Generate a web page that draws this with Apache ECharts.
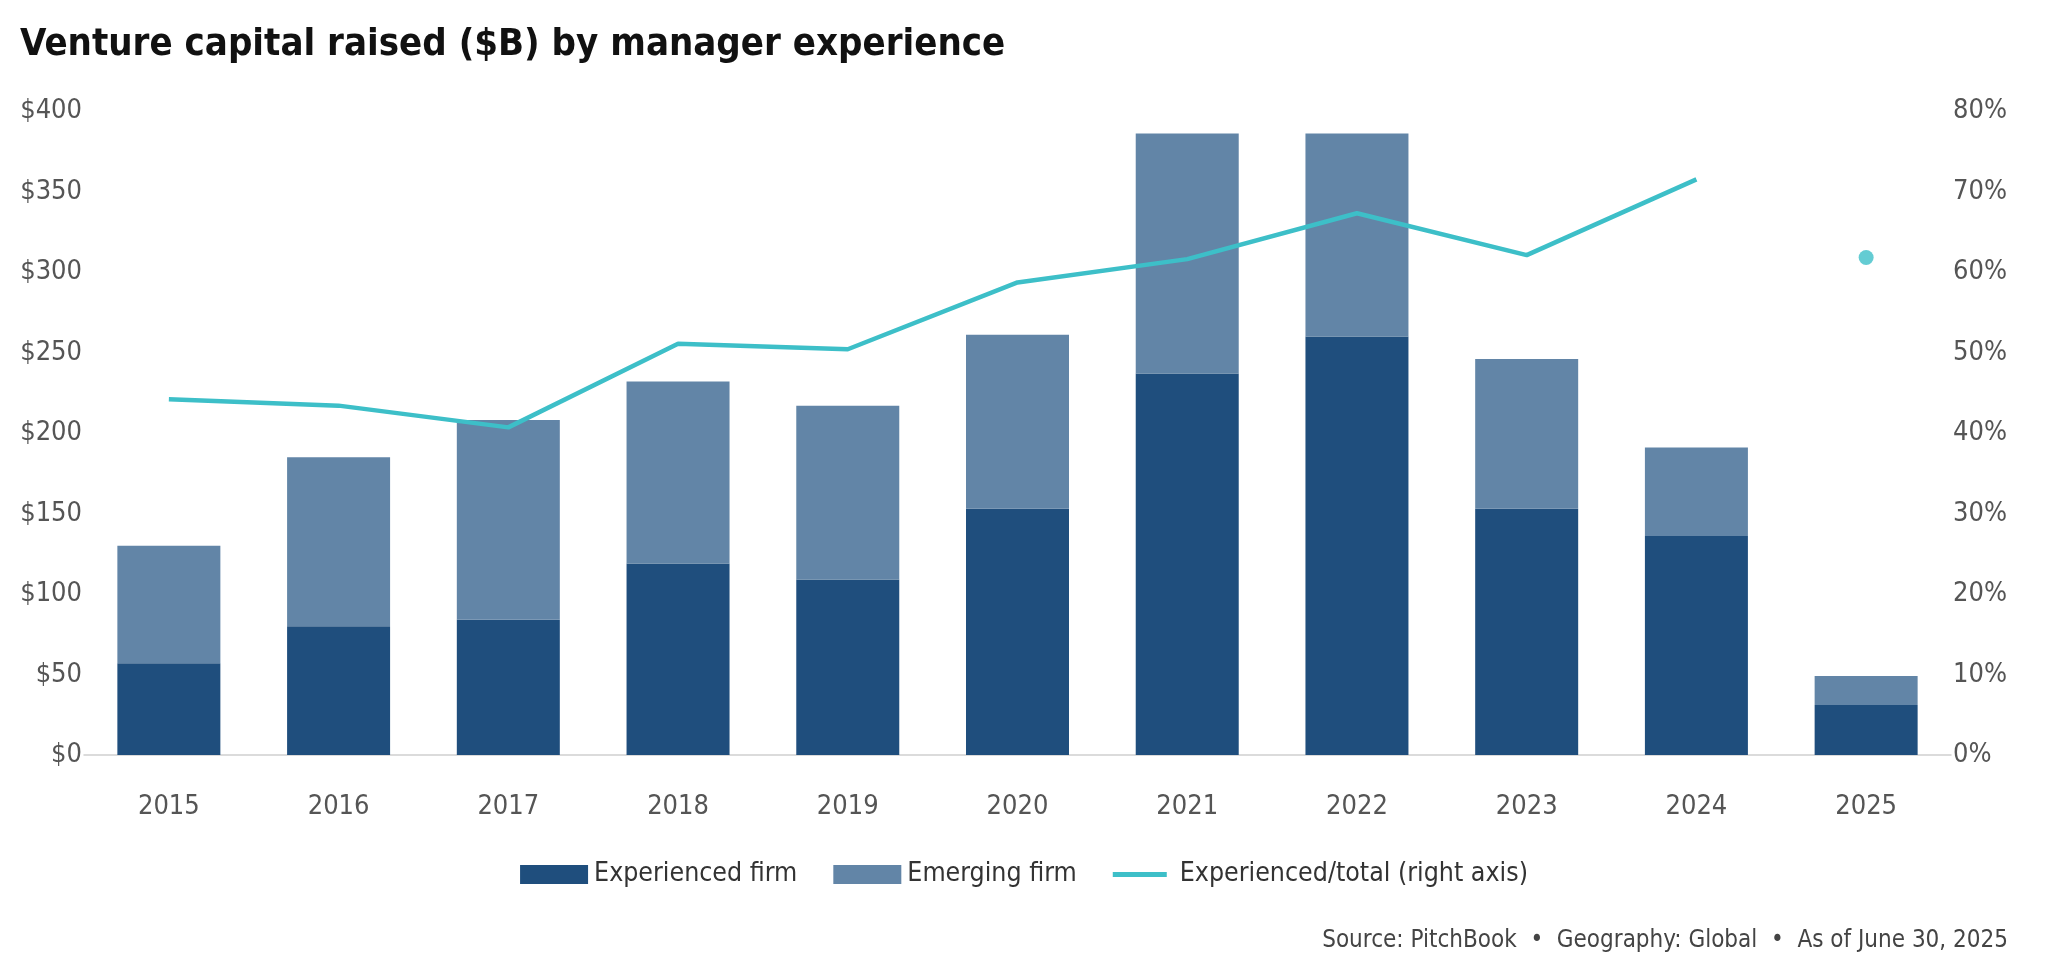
<!DOCTYPE html>
<html>
<head>
<meta charset="utf-8">
<script src="https://cdn.jsdelivr.net/npm/echarts@6/dist/echarts.min.js"></script>
<style>
html,body{margin:0;padding:0;background:#fff;}
#chart{width:2048px;height:977px;}
</style>
</head>
<body>
<div id="chart"></div>
<script>
const years = ['2015','2016','2017','2018','2019','2020','2021','2022','2023','2024','2025'];
const experienced = [57, 80, 84, 119, 109, 153, 237, 260, 153, 136, 31];
const emerging = [73, 105, 124, 113, 108, 108, 149, 126, 93, 55, 18];
const experiencedShare = [44.2, 43.4, 40.7, 51.1, 50.4, 58.7, 61.6, 67.3, 62.1, 71.5, 61.8];
const leftTicks = { min: 0, max: 400, interval: 50 };
const rightTicks = { min: 0, max: 80, interval: 10 };

const FONT = "'DejaVu Sans Condensed', 'Liberation Sans Narrow', 'Roboto', sans-serif";
const lastIdx = years.length - 1;
const lineData = experiencedShare.map((v, i) => i === lastIdx ? '-' : v);
const dotData = experiencedShare.map((v, i) => i === lastIdx ? v : '-');

const chart = echarts.init(document.getElementById('chart'));
chart.setOption({
  animation: false,
  backgroundColor: '#ffffff',
  textStyle: { fontFamily: FONT },
  title: [
    {
      text: 'Venture capital raised ($B) by manager experience',
      left: 20, top: 26, padding: 0,
      textStyle: { fontFamily: FONT, fontSize: 38, fontWeight: 'bold', color: '#111111' }
    },
    {
      text: 'Source: PitchBook  •  Geography: Global  •  As of June 30, 2025',
      right: 40, top: 929, padding: 0,
      textStyle: { fontFamily: FONT, fontSize: 24, fontWeight: 'normal', color: '#444444' }
    }
  ],
  legend: {
    top: 861, left: 'center', padding: 0,
    itemWidth: 68, itemHeight: 19, itemGap: 36,
    textStyle: { fontFamily: FONT, fontSize: 26.5, color: '#333333', padding: [0, 0, 0, 1] },
    data: [
      { name: 'Experienced firm', icon: 'rect' },
      { name: 'Emerging firm', icon: 'rect' },
      { name: 'Experienced/total (right axis)', icon: 'path://M0,0 M0,19 M0,7 L54,7 L54,12 L0,12 Z' }
    ]
  },
  grid: { left: 84, right: 97, top: 111, bottom: 222 },
  xAxis: {
    type: 'category',
    data: years,
    axisTick: { show: false },
    axisLine: { lineStyle: { color: '#cfcfcf', width: 1.5 } },
    axisLabel: { margin: 38, fontFamily: FONT, fontSize: 27, color: '#555555' }
  },
  yAxis: [
    {
      type: 'value', min: leftTicks.min, max: leftTicks.max, interval: leftTicks.interval,
      splitLine: { show: false }, axisLine: { show: false }, axisTick: { show: false },
      axisLabel: { margin: 2, fontFamily: FONT, fontSize: 27, color: '#555555', formatter: '${value}' }
    },
    {
      type: 'value', min: rightTicks.min, max: rightTicks.max, interval: rightTicks.interval,
      splitLine: { show: false }, axisLine: { show: false }, axisTick: { show: false },
      axisLabel: { margin: 2, fontFamily: FONT, fontSize: 27, color: '#555555', formatter: '{value}%' }
    }
  ],
  series: [
    {
      name: 'Experienced firm', type: 'bar', stack: 'total', barWidth: 103,
      itemStyle: { color: '#1F4E7D' }, data: experienced
    },
    {
      name: 'Emerging firm', type: 'bar', stack: 'total', barWidth: 103,
      itemStyle: { color: '#6285A7' }, data: emerging
    },
    {
      name: 'Experienced/total (right axis)', type: 'line', yAxisIndex: 1,
      symbol: 'none', lineStyle: { color: '#3DBFC8', width: 4.5 },
      itemStyle: { color: '#3DBFC8' }, data: lineData, z: 5
    },
    {
      name: 'Experienced/total (right axis)', type: 'scatter', yAxisIndex: 1,
      symbol: 'circle', symbolSize: 15,
      itemStyle: { color: '#3DBFC8' }, data: dotData, z: 5
    }
  ]
});
</script>
</body>
</html>
